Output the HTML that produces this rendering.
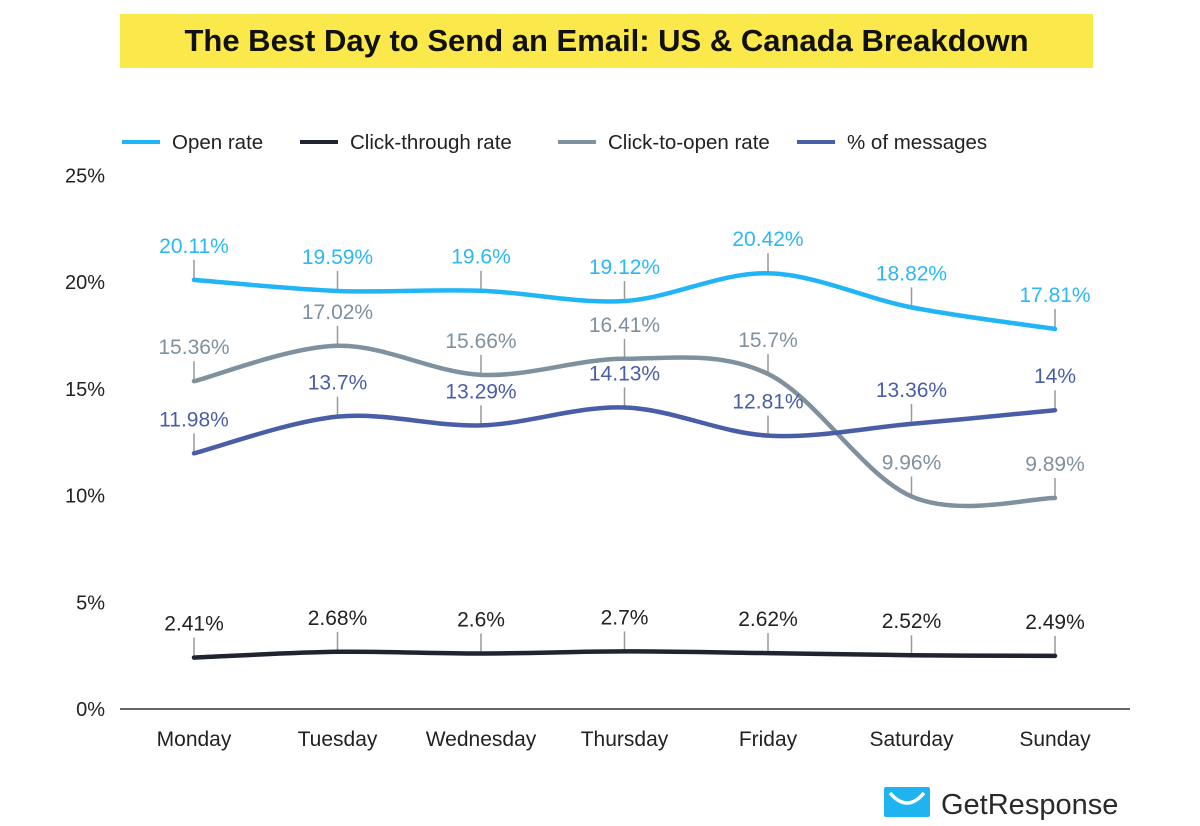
<!DOCTYPE html>
<html><head><meta charset="utf-8"><style>
body{margin:0;background:#fff;width:1200px;height:826px;overflow:hidden;font-family:"Liberation Sans",sans-serif}
#title{position:absolute;left:120px;top:14px;width:973px;height:54px;background:#fbe84a;font-weight:bold;font-size:31px;line-height:54px;text-align:center;color:#111}
</style></head><body>
<div id="title">The Best Day to Send an Email: US &amp; Canada Breakdown</div>
<svg id="chart" width="1200" height="826" style="position:absolute;left:0;top:0"></svg>
<script>
const days=["Monday","Tuesday","Wednesday","Thursday","Friday","Saturday","Sunday"];
const openRate=[20.11,19.59,19.6,19.12,20.42,18.82,17.81];
const ctr=[2.41,2.68,2.6,2.7,2.62,2.52,2.49];
const ctor=[15.36,17.02,15.66,16.41,15.7,9.96,9.89];
const msgs=[11.98,13.7,13.29,14.13,12.81,13.36,14];
const yTicks=[0,5,10,15,20,25];
const seriesNames=["Open rate","Click-through rate","Click-to-open rate","% of messages"];
const NS="http://www.w3.org/2000/svg";
const svg=document.getElementById('chart');
const X=i=>194+i*143.5;
const Y=v=>709-v*21.34;
function mk(t,a,p){const e=document.createElementNS(NS,t);for(const k in a)e.setAttribute(k,a[k]);(p||svg).appendChild(e);return e;}
yTicks.forEach(t=>{const e=mk('text',{x:105,y:Y(t)+7,'text-anchor':'end','font-size':20,fill:'#222'});e.textContent=t+'%';

});
const ax=mk('line',{x1:120,x2:1130,y1:709,y2:709,stroke:'#333','stroke-width':1.5});


days.forEach((d,i)=>{const e=mk('text',{x:X(i),y:746,'text-anchor':'middle','font-size':21,fill:'#222'});e.textContent=d;

});
const colors=['#22b5f5','#1f2430','#7f919e','#4a5ea8'];
const labelColors=['#2bb8f5','#222','#7f919e','#4a5ea8'];
const series=[openRate,ctr,ctor,msgs];
const lx=[122,300,558,797];
seriesNames.forEach((n,i)=>{const g=mk('g',{});


mk('line',{x1:lx[i],x2:lx[i]+38,y1:142,y2:142,stroke:colors[i],'stroke-width':4},g);
const t=mk('text',{x:lx[i]+50,y:149,'font-size':20.5,fill:'#222'},g);t.textContent=n;});
function path(vals){const p=vals.map((v,i)=>[X(i),Y(v)]);let d='M'+p[0];
for(let i=0;i<p.length-1;i++){const p0=p[i-1]||p[i],p1=p[i],p2=p[i+1],p3=p[i+2]||p2;
const c1=[p1[0]+(p2[0]-p0[0])/6,p1[1]+(p2[1]-p0[1])/6],c2=[p2[0]-(p3[0]-p1[0])/6,p2[1]-(p3[1]-p1[1])/6];
d+=' C'+c1+' '+c2+' '+p2;}return d;}
series.forEach((s,k)=>{const g=mk('g',{});


s.forEach((v,i)=>{mk('line',{x1:X(i),x2:X(i),y1:Y(v)-20,y2:Y(v),stroke:'#999','stroke-width':1.5},g);});
mk('path',{d:path(s),fill:'none',stroke:colors[k],'stroke-width':4.5,'stroke-linecap':'round'},g);
s.forEach((v,i)=>{const t=mk('text',{x:X(i),y:Y(v)-27,'text-anchor':'middle','font-size':21,fill:labelColors[k]},g);t.textContent=v+'%';

});});
const logo=mk('g',{});


mk('rect',{x:884,y:787,width:46,height:30,fill:'#1fb3f0',rx:2},logo);
mk('path',{d:'M890 793 Q907 813 924 793',fill:'none',stroke:'#fff','stroke-width':3.5},logo);
const lt=mk('text',{x:941,y:814,'font-size':29,fill:'#2a2a2a'},logo);lt.textContent='GetResponse';
</script>
</body></html>
